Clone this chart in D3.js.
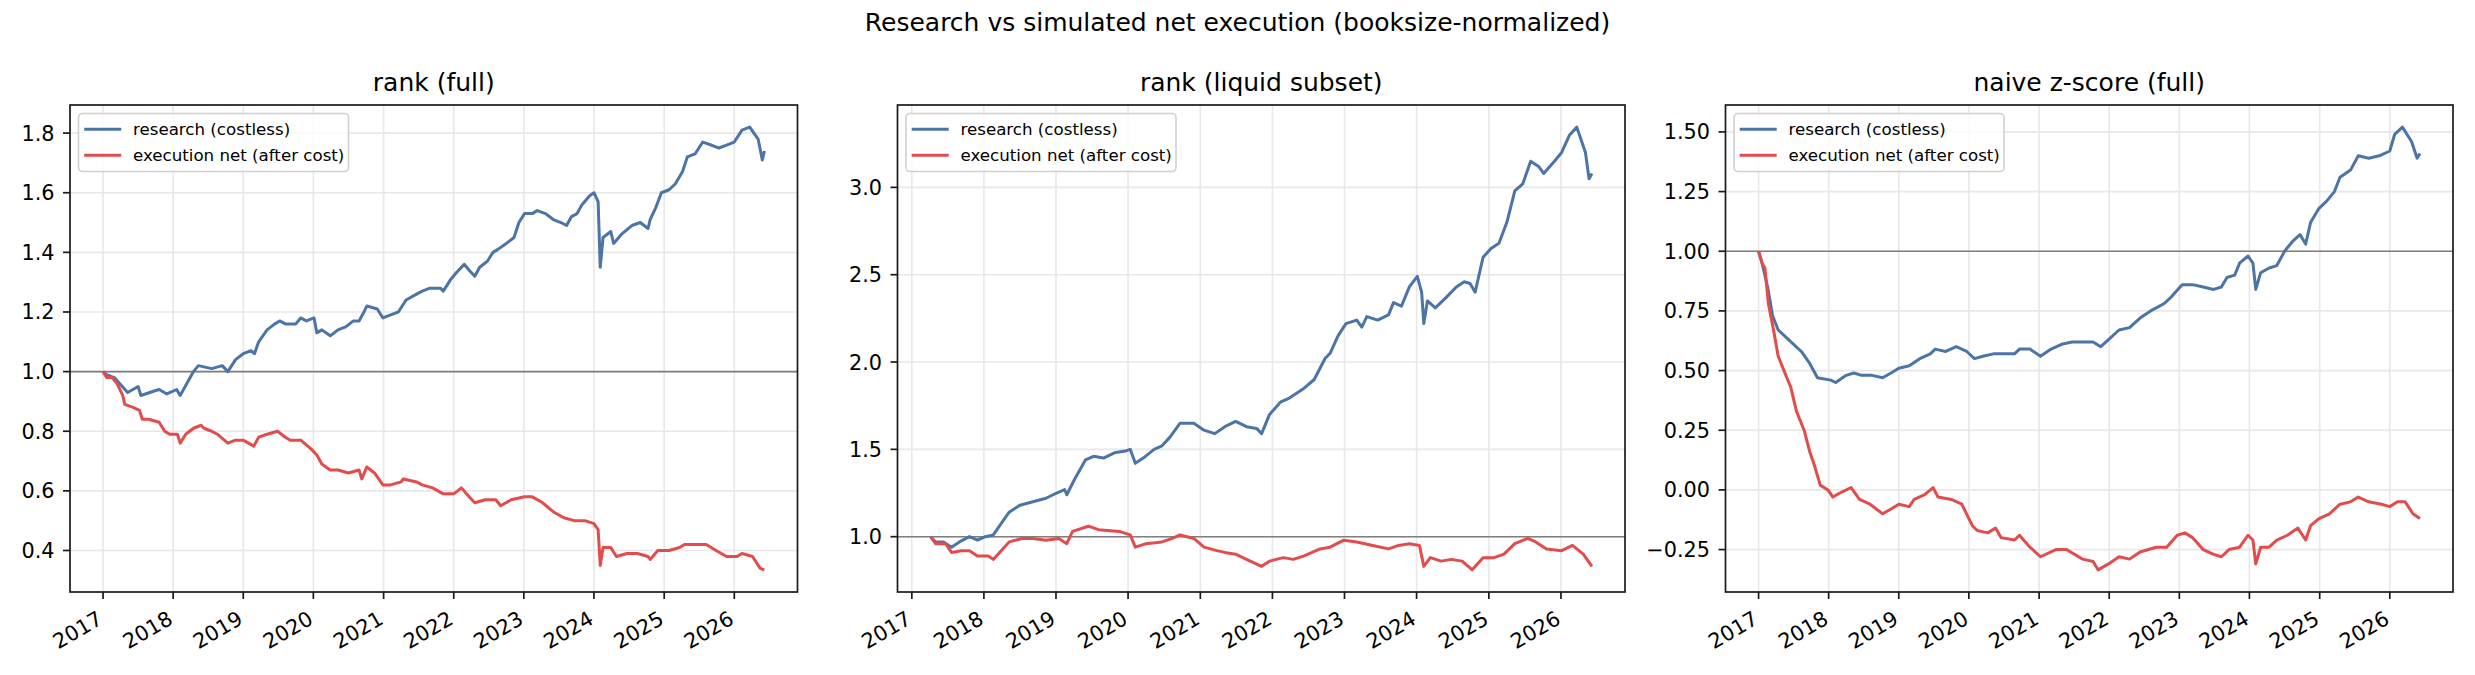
<!DOCTYPE html>
<html><head><meta charset="utf-8">
<script src="https://cdn.jsdelivr.net/npm/d3@7"></script>
<style>
body{margin:0;background:#fff}
svg{display:block}
text{font-family:"DejaVu Sans",sans-serif;fill:#000}
</style>
</head><body>
<svg id="chart" width="2475" height="675"></svg>
<script>
// ---------------- data (decimal year, value) ----------------
const suptitle = "Research vs simulated net execution (booksize-normalized)";
const panelTitles = ["rank (full)", "rank (liquid subset)", "naive z-score (full)"];
const seriesNames = ["research (costless)", "execution net (after cost)"];
const yearTicks = [2017,2018,2019,2020,2021,2022,2023,2024,2025,2026];
const rankFullYTicks = [0.4,0.6,0.8,1.0,1.2,1.4,1.6,1.8];
const rankLiquidYTicks = [1.0,1.5,2.0,2.5,3.0];
const zscoreYTicks = [-0.25,0.00,0.25,0.50,0.75,1.00,1.25,1.50];

const rankFullResearch = [[2017.00,1.00],[2017.05,0.99],[2017.16,0.98],[2017.35,0.93],[2017.50,0.95],[2017.54,0.92],[2017.73,0.935],[2017.80,0.94],[2017.91,0.925],[2018.05,0.94],[2018.10,0.92],[2018.29,1.00],[2018.36,1.02],[2018.55,1.01],[2018.70,1.02],[2018.78,1.00],[2018.89,1.04],[2019.00,1.06],[2019.11,1.07],[2019.16,1.06],[2019.22,1.10],[2019.34,1.14],[2019.45,1.16],[2019.52,1.17],[2019.60,1.16],[2019.75,1.16],[2019.82,1.18],[2019.90,1.17],[2020.01,1.18],[2020.05,1.13],[2020.12,1.14],[2020.24,1.12],[2020.35,1.14],[2020.46,1.15],[2020.57,1.17],[2020.65,1.17],[2020.72,1.20],[2020.76,1.22],[2020.91,1.21],[2020.99,1.18],[2021.10,1.19],[2021.21,1.20],[2021.32,1.24],[2021.47,1.26],[2021.55,1.27],[2021.66,1.28],[2021.81,1.28],[2021.85,1.27],[2021.96,1.31],[2022.03,1.33],[2022.15,1.36],[2022.22,1.34],[2022.30,1.32],[2022.37,1.35],[2022.48,1.37],[2022.56,1.40],[2022.63,1.41],[2022.75,1.43],[2022.86,1.45],[2022.93,1.50],[2023.01,1.53],[2023.12,1.53],[2023.19,1.54],[2023.31,1.53],[2023.42,1.51],[2023.53,1.50],[2023.61,1.49],[2023.68,1.52],[2023.76,1.53],[2023.83,1.56],[2023.94,1.59],[2024.00,1.60],[2024.06,1.57],[2024.09,1.35],[2024.13,1.45],[2024.24,1.47],[2024.28,1.43],[2024.39,1.46],[2024.54,1.49],[2024.66,1.50],[2024.77,1.48],[2024.80,1.51],[2024.88,1.55],[2024.96,1.60],[2025.07,1.61],[2025.16,1.63],[2025.26,1.67],[2025.33,1.72],[2025.44,1.73],[2025.55,1.77],[2025.67,1.76],[2025.78,1.75],[2025.89,1.76],[2026.00,1.77],[2026.11,1.81],[2026.22,1.82],[2026.34,1.78],[2026.40,1.71],[2026.43,1.74]];
const rankFullExecution = [[2017.00,1.00],[2017.05,0.98],[2017.13,0.98],[2017.20,0.96],[2017.28,0.92],[2017.31,0.89],[2017.43,0.88],[2017.52,0.87],[2017.56,0.84],[2017.65,0.84],[2017.80,0.83],[2017.88,0.80],[2017.95,0.79],[2018.06,0.79],[2018.10,0.76],[2018.18,0.79],[2018.29,0.81],[2018.40,0.82],[2018.44,0.81],[2018.55,0.80],[2018.63,0.79],[2018.78,0.76],[2018.89,0.77],[2019.00,0.77],[2019.15,0.75],[2019.22,0.78],[2019.34,0.79],[2019.49,0.80],[2019.60,0.78],[2019.67,0.77],[2019.82,0.77],[2019.97,0.74],[2020.05,0.72],[2020.12,0.69],[2020.24,0.67],[2020.35,0.67],[2020.50,0.66],[2020.65,0.67],[2020.69,0.64],[2020.76,0.68],[2020.87,0.66],[2020.99,0.62],[2021.10,0.62],[2021.25,0.63],[2021.28,0.64],[2021.47,0.63],[2021.55,0.62],[2021.70,0.61],[2021.85,0.59],[2022.00,0.59],[2022.11,0.61],[2022.22,0.58],[2022.30,0.56],[2022.45,0.57],[2022.60,0.57],[2022.67,0.55],[2022.82,0.57],[2023.01,0.58],[2023.12,0.58],[2023.27,0.56],[2023.42,0.53],[2023.57,0.51],[2023.72,0.50],[2023.87,0.50],[2024.00,0.49],[2024.06,0.47],[2024.09,0.35],[2024.13,0.41],[2024.24,0.41],[2024.32,0.38],[2024.47,0.39],[2024.62,0.39],[2024.77,0.38],[2024.80,0.37],[2024.91,0.40],[2025.07,0.40],[2025.22,0.41],[2025.29,0.42],[2025.44,0.42],[2025.60,0.42],[2025.74,0.40],[2025.89,0.38],[2026.04,0.38],[2026.11,0.39],[2026.26,0.38],[2026.37,0.34],[2026.43,0.335]];

const rankLiquidResearch = [[2017.26,1.00],[2017.33,0.97],[2017.44,0.97],[2017.55,0.94],[2017.66,0.97],[2017.80,1.00],[2017.91,0.98],[2018.02,1.00],[2018.13,1.01],[2018.35,1.14],[2018.50,1.18],[2018.68,1.20],[2018.86,1.22],[2019.01,1.25],[2019.12,1.27],[2019.15,1.24],[2019.26,1.33],[2019.41,1.44],[2019.52,1.46],[2019.66,1.45],[2019.81,1.48],[2019.96,1.49],[2020.03,1.50],[2020.10,1.42],[2020.21,1.45],[2020.36,1.50],[2020.47,1.52],[2020.58,1.57],[2020.65,1.61],[2020.72,1.65],[2020.91,1.65],[2021.05,1.61],[2021.20,1.59],[2021.34,1.63],[2021.49,1.66],[2021.64,1.63],[2021.78,1.62],[2021.85,1.59],[2021.96,1.70],[2022.11,1.77],[2022.22,1.79],[2022.44,1.85],[2022.58,1.90],[2022.73,2.02],[2022.80,2.05],[2022.91,2.15],[2023.02,2.22],[2023.17,2.24],[2023.24,2.20],[2023.31,2.26],[2023.46,2.24],[2023.61,2.27],[2023.68,2.34],[2023.79,2.32],[2023.90,2.43],[2024.01,2.49],[2024.07,2.40],[2024.10,2.22],[2024.15,2.35],[2024.26,2.31],[2024.41,2.37],[2024.55,2.43],[2024.66,2.46],[2024.74,2.45],[2024.81,2.40],[2024.92,2.60],[2025.03,2.65],[2025.14,2.68],[2025.25,2.80],[2025.36,2.98],[2025.47,3.02],[2025.58,3.15],[2025.69,3.12],[2025.76,3.08],[2025.91,3.15],[2026.01,3.20],[2026.12,3.30],[2026.22,3.345],[2026.34,3.20],[2026.39,3.05],[2026.43,3.08]];
const rankLiquidExecution = [[2017.26,1.00],[2017.33,0.96],[2017.47,0.96],[2017.55,0.91],[2017.69,0.92],[2017.80,0.92],[2017.91,0.89],[2018.06,0.89],[2018.13,0.87],[2018.24,0.92],[2018.35,0.97],[2018.53,0.99],[2018.68,0.99],[2018.86,0.98],[2019.04,0.99],[2019.15,0.96],[2019.23,1.03],[2019.45,1.06],[2019.59,1.04],[2019.88,1.03],[2020.03,1.01],[2020.10,0.94],[2020.25,0.96],[2020.47,0.97],[2020.61,0.99],[2020.72,1.01],[2020.91,0.99],[2021.05,0.94],[2021.23,0.92],[2021.34,0.91],[2021.49,0.90],[2021.64,0.87],[2021.85,0.83],[2021.96,0.86],[2022.15,0.88],[2022.29,0.87],[2022.44,0.89],[2022.66,0.93],[2022.80,0.94],[2022.99,0.98],[2023.17,0.97],[2023.39,0.95],[2023.61,0.93],[2023.75,0.95],[2023.90,0.96],[2024.04,0.95],[2024.10,0.83],[2024.19,0.88],[2024.34,0.86],[2024.48,0.87],[2024.63,0.86],[2024.77,0.81],[2024.92,0.88],[2025.07,0.88],[2025.21,0.90],[2025.36,0.96],[2025.54,0.99],[2025.65,0.97],[2025.80,0.93],[2026.01,0.92],[2026.16,0.95],[2026.31,0.90],[2026.43,0.83]];

const zscoreResearch = [[2017.00,1.00],[2017.05,0.95],[2017.13,0.85],[2017.20,0.73],[2017.28,0.67],[2017.39,0.64],[2017.50,0.61],[2017.61,0.58],[2017.73,0.53],[2017.84,0.47],[2018.03,0.46],[2018.10,0.45],[2018.25,0.48],[2018.36,0.49],[2018.47,0.48],[2018.62,0.48],[2018.77,0.47],[2018.89,0.49],[2019.00,0.51],[2019.15,0.52],[2019.30,0.55],[2019.45,0.57],[2019.52,0.59],[2019.67,0.58],[2019.82,0.60],[2019.97,0.58],[2020.08,0.55],[2020.20,0.56],[2020.35,0.57],[2020.50,0.57],[2020.65,0.57],[2020.72,0.59],[2020.87,0.59],[2021.02,0.56],[2021.17,0.59],[2021.32,0.61],[2021.47,0.62],[2021.62,0.62],[2021.77,0.62],[2021.88,0.60],[2021.99,0.63],[2022.14,0.67],[2022.29,0.68],[2022.44,0.72],[2022.59,0.75],[2022.78,0.78],[2022.89,0.81],[2023.04,0.86],[2023.19,0.86],[2023.34,0.85],[2023.49,0.84],[2023.60,0.85],[2023.68,0.89],[2023.79,0.90],[2023.86,0.95],[2023.98,0.98],[2024.05,0.95],[2024.09,0.84],[2024.16,0.91],[2024.28,0.93],[2024.39,0.94],[2024.50,1.00],[2024.61,1.04],[2024.72,1.07],[2024.80,1.03],[2024.87,1.12],[2024.99,1.18],[2025.10,1.21],[2025.21,1.25],[2025.29,1.31],[2025.44,1.34],[2025.55,1.40],[2025.70,1.39],[2025.85,1.40],[2026.00,1.42],[2026.07,1.49],[2026.18,1.52],[2026.31,1.46],[2026.39,1.39],[2026.43,1.41]];
const zscoreExecution = [[2017.00,1.00],[2017.05,0.95],[2017.09,0.93],[2017.14,0.78],[2017.22,0.66],[2017.28,0.56],[2017.39,0.48],[2017.46,0.43],[2017.54,0.33],[2017.65,0.25],[2017.73,0.16],[2017.80,0.10],[2017.88,0.02],[2017.99,0.00],[2018.06,-0.03],[2018.18,-0.01],[2018.32,0.01],[2018.44,-0.04],[2018.59,-0.06],[2018.77,-0.10],[2018.89,-0.08],[2019.00,-0.06],[2019.15,-0.07],[2019.22,-0.04],[2019.37,-0.02],[2019.49,0.01],[2019.56,-0.03],[2019.75,-0.04],[2019.90,-0.06],[2020.05,-0.15],[2020.12,-0.17],[2020.27,-0.18],[2020.38,-0.16],[2020.46,-0.20],[2020.65,-0.21],[2020.72,-0.19],[2020.87,-0.24],[2021.02,-0.28],[2021.24,-0.25],[2021.39,-0.25],[2021.62,-0.29],[2021.77,-0.30],[2021.84,-0.335],[2021.99,-0.31],[2022.14,-0.28],[2022.29,-0.29],[2022.44,-0.26],[2022.67,-0.24],[2022.82,-0.24],[2022.97,-0.19],[2023.08,-0.18],[2023.19,-0.20],[2023.34,-0.25],[2023.49,-0.27],[2023.60,-0.28],[2023.71,-0.25],[2023.86,-0.24],[2023.98,-0.19],[2024.05,-0.21],[2024.09,-0.31],[2024.16,-0.24],[2024.28,-0.24],[2024.39,-0.21],[2024.54,-0.19],[2024.69,-0.16],[2024.80,-0.21],[2024.87,-0.15],[2024.99,-0.12],[2025.14,-0.10],[2025.29,-0.06],[2025.44,-0.05],[2025.55,-0.03],[2025.70,-0.05],[2025.88,-0.06],[2026.00,-0.07],[2026.11,-0.05],[2026.22,-0.05],[2026.33,-0.10],[2026.43,-0.12]];

// ---------------- drawing ----------------
const colors = {research:"#4c74a6", execution:"#e24c4c"};
const W = 2475, H = 675;
const svg = d3.select("#chart");
const axTop = 105, axBottom = 592, axWidth = 727.5;
const lefts = [70, 897.5, 1725.5];

function toDate(y){
  const yr = Math.floor(y);
  const s = Date.UTC(yr,0,1), e = Date.UTC(yr+1,0,1);
  return new Date(s + (y-yr)*(e-s));
}

const panels = [
  {title:panelTitles[0], research:rankFullResearch, execution:rankFullExecution, yTicks:rankFullYTicks, fmt:".1f"},
  {title:panelTitles[1], research:rankLiquidResearch, execution:rankLiquidExecution, yTicks:rankLiquidYTicks, fmt:".1f"},
  {title:panelTitles[2], research:zscoreResearch, execution:zscoreExecution, yTicks:zscoreYTicks, fmt:".2f"}
];

svg.append("text").attr("x", W/2).attr("y", 31).attr("text-anchor","middle")
  .attr("font-size", 25).text(suptitle);

panels.forEach((p, i) => {
  const L = lefts[i], R = L + axWidth;
  const all = p.research.concat(p.execution);
  const xe = d3.extent(all, d => toDate(d[0]).getTime());
  const xp = (xe[1]-xe[0])*0.05;
  const ye = d3.extent(all, d => d[1]);
  const yp = (ye[1]-ye[0])*0.05;
  const x = d3.scaleUtc().domain([new Date(xe[0]-xp), new Date(xe[1]+xp)]).range([L, R]);
  const y = d3.scaleLinear().domain([ye[0]-yp, ye[1]+yp]).range([axBottom, axTop]);
  const g = svg.append("g");
  const clipId = "clip"+i;
  g.append("clipPath").attr("id", clipId).append("rect")
    .attr("x", L).attr("y", axTop).attr("width", axWidth).attr("height", axBottom-axTop);

  // grid
  const xt = yearTicks.map(t => toDate(t));
  g.selectAll(".gx").data(xt).join("line")
    .attr("x1", d => x(d)).attr("x2", d => x(d)).attr("y1", axTop).attr("y2", axBottom)
    .attr("stroke", "#e8e8e8").attr("stroke-width", 1.6);
  g.selectAll(".gy").data(p.yTicks).join("line")
    .attr("x1", L).attr("x2", R).attr("y1", d => y(d)).attr("y2", d => y(d))
    .attr("stroke", "#e8e8e8").attr("stroke-width", 1.6);

  // reference line at 1.0
  g.append("line").attr("x1", L).attr("x2", R).attr("y1", y(1)).attr("y2", y(1))
    .attr("stroke", "#7f7f7f").attr("stroke-width", 1.6);

  const line = d3.line().x(d => x(toDate(d[0]))).y(d => y(d[1]));
  const lg = g.append("g").attr("clip-path", `url(#${clipId})`);
  lg.append("path").datum(p.research).attr("d", line).attr("fill","none")
    .attr("stroke", colors.research).attr("stroke-width", 3).attr("stroke-linejoin","round");
  lg.append("path").datum(p.execution).attr("d", line).attr("fill","none")
    .attr("stroke", colors.execution).attr("stroke-width", 3).attr("stroke-linejoin","round");

  // frame
  g.append("rect").attr("x", L).attr("y", axTop).attr("width", axWidth).attr("height", axBottom-axTop)
    .attr("fill","none").attr("stroke","#1a1a1a").attr("stroke-width",1.7);

  // y axis ticks
  const fmt = d3.format(p.fmt);
  p.yTicks.forEach(t => {
    g.append("line").attr("x1", L-7).attr("x2", L).attr("y1", y(t)).attr("y2", y(t))
      .attr("stroke","#1a1a1a").attr("stroke-width",1.7);
    g.append("text").attr("x", L-15.5).attr("y", y(t)).attr("dy","0.36em")
      .attr("text-anchor","end").attr("font-size",20.8).text(fmt(t));
  });
  // x axis ticks
  yearTicks.forEach(t => {
    const tx = x(toDate(t));
    g.append("line").attr("x1", tx).attr("x2", tx).attr("y1", axBottom).attr("y2", axBottom+7)
      .attr("stroke","#1a1a1a").attr("stroke-width",1.7);
    g.append("text").attr("transform", `translate(${tx+1},${axBottom+31}) rotate(-30)`)
      .attr("text-anchor","end").attr("font-size",20.8).text(String(t));
  });

  // title
  g.append("text").attr("x", (L+R)/2).attr("y", 91).attr("text-anchor","middle")
    .attr("font-size",25).text(p.title);

  // legend
  const bx = L + 8.5, by = axTop + 8.5;
  g.append("rect").attr("x", bx).attr("y", by).attr("width", 270).attr("height", 58)
    .attr("rx", 4).attr("fill","rgba(255,255,255,0.8)").attr("stroke","#d0d0d0").attr("stroke-width",1.6);
  [["research", 0], ["execution", 1]].forEach(([k, j]) => {
    const cy = by + 15.7 + j*26;
    g.append("line").attr("x1", bx+5.7).attr("x2", bx+42.7).attr("y1", cy).attr("y2", cy)
      .attr("stroke", colors[k]).attr("stroke-width", 3);
    g.append("text").attr("x", bx+54.5).attr("y", cy).attr("dy","0.35em")
      .attr("font-size",16.67).text(seriesNames[j]);
  });
});
</script>
</body></html>
